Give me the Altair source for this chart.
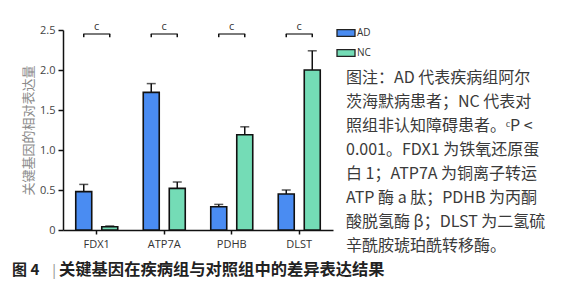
import altair as alt
import pandas as pd

genes = ["FDX1", "ATP7A", "PDHB", "DLST"]
groups = ["AD", "NC"]
ad_mean = [0.48, 1.72, 0.29, 0.45]
ad_err = [0.09, 0.11, 0.03, 0.05]
nc_mean = [0.04, 0.52, 1.19, 2.00]
nc_err = [0.01, 0.08, 0.10, 0.24]
sig_labels = ["c", "c", "c", "c"]
y_ticks = [0, 0.5, 1.0, 1.5, 2.0, 2.5]

note_lines = [
    "图注：AD 代表疾病组阿尔",
    "茨海默病患者；NC 代表对",
    "照组非认知障碍患者。ᶜP <",
    "0.001。FDX1 为铁氧还原蛋",
    "白 1；ATP7A 为铜离子转运",
    "ATP 酶 a 肽；PDHB 为丙酮",
    "酸脱氢酶 β；DLST 为二氢硫",
    "辛酰胺琥珀酰转移酶。",
]
caption_num = "图 4"
caption_text = "关键基因在疾病组与对照组中的差异表达结果"
y_title = "关键基因的相对表达量"

rows = []
for i, g in enumerate(genes):
    rows.append({"gene": g, "group": "AD", "mean": ad_mean[i], "hi": ad_mean[i] + ad_err[i]})
    rows.append({"gene": g, "group": "NC", "mean": nc_mean[i], "hi": nc_mean[i] + nc_err[i]})
df = pd.DataFrame(rows)

sig = pd.DataFrame({"gene": genes, "label": sig_labels, "yb": [2.45] * 4, "yl": [2.41] * 4, "yt": [2.54] * 4})
leg_rows = pd.DataFrame([{"gene": g, "group": grp, "yb": 2.45, "yl": 2.41} for g in genes for grp in groups])

FONT = "Noto Sans CJK SC"
LAT = "Open Sans"

xaxis = alt.Axis(title=None, labelAngle=0, labelFont=LAT, labelFontSize=11, labelColor="#333",
                 domainColor="#111", domainWidth=1.5, tickColor="#111", tickWidth=1.5,
                 tickSize=4, labelPadding=4)
xscale = alt.Scale(paddingInner=0, paddingOuter=0)
xs = alt.X("gene:N", sort=genes, scale=xscale, axis=xaxis)
xo = alt.XOffset("group:N", sort=groups, scale=alt.Scale(paddingInner=0.385, paddingOuter=0.49))
yscale = alt.Scale(domain=[0, 2.5], nice=False)
yaxis = alt.Axis(values=y_ticks, title=y_title, grid=False, labelOverlap=False,
                 labelExpr="datum.value == 0 ? '0' : format(datum.value, '.1f')",
                 labelFont=LAT, labelFontSize=11, labelColor="#444", labelPadding=3,
                 domainColor="#111", domainWidth=1.5, tickColor="#111", tickWidth=1.5, tickSize=5,
                 titleFont=FONT, titleFontSize=13, titleFontWeight="normal", titleColor="#8a8a8a",
                 titlePadding=4)


def Y(field):
    return alt.Y(field, scale=yscale, axis=yaxis, title=y_title)


color = alt.Color("group:N", sort=groups,
                  scale=alt.Scale(domain=groups, range=["#4a8cf2", "#74dcb6"]),
                  legend=alt.Legend(title=None, orient="none", legendX=273, legendY=-7,
                                    symbolType="M-1,-0.38L1,-0.38L1,0.38L-1,0.38Z", symbolSize=324,
                                    symbolStrokeColor="#222", symbolStrokeWidth=1.3,
                                    labelFont=LAT, labelFontSize=10, labelColor="#333",
                                    labelOffset=1, rowPadding=3))

base = alt.Chart(df)
bars = base.mark_bar(stroke="#111", strokeWidth=1.6).encode(x=xs, xOffset=xo, y=Y("mean:Q"), color=color)
err = base.mark_rule(color="#111", strokeWidth=1.5).encode(x=xs, xOffset=xo, y=Y("mean:Q"), y2="hi:Q")
caps = base.mark_tick(color="#111", thickness=1.5, size=9).encode(x=xs, xOffset=xo, y=Y("hi:Q"))

legs = alt.Chart(leg_rows).mark_rule(color="#111", strokeWidth=1.5).encode(
    x=xs, xOffset=xo, y=Y("yl:Q"), y2="yb:Q")
bracket = alt.Chart(sig).mark_tick(color="#111", thickness=1.6, size=27).encode(x=xs, y=Y("yb:Q"))
sig_text = alt.Chart(sig).mark_text(font=LAT, fontSize=11, color="#333", baseline="middle").encode(
    x=xs, y=Y("yt:Q"), text="label:N")

note = alt.Chart(pd.DataFrame({"t": ["\n".join(note_lines)]})).mark_text(
    font=FONT, fontSize=16, color="#3a3a3a", align="left", baseline="middle",
    lineBreak="\n", lineHeight=24).encode(x=alt.value(283), y=alt.value(48), text="t:N")

cap1 = alt.Chart(pd.DataFrame({"t": [caption_num]})).mark_text(
    font=FONT, fontSize=15, fontWeight="bold", color="#222", align="left", baseline="middle").encode(
    x=alt.value(-51), y=alt.value(240), text="t:N")
bar_sep = alt.Chart(pd.DataFrame({"t": ["|"]})).mark_text(
    font=LAT, fontSize=15, color="#999", align="left", baseline="middle").encode(
    x=alt.value(-13), y=alt.value(240), text="t:N")
cap2 = alt.Chart(pd.DataFrame({"t": [caption_text]})).mark_text(
    font=FONT, fontSize=16.3, fontWeight="bold", color="#222", align="left", baseline="middle").encode(
    x=alt.value(-4), y=alt.value(240), text="t:N")

chart = alt.layer(bars, err, caps, legs, bracket, sig_text, note, cap1, bar_sep, cap2).properties(
    width=270, height=200,
    autosize=alt.AutoSizeParams(type="none"),
    padding={"left": 63, "top": 30, "right": 245, "bottom": 70},
    background="white",
).configure_view(stroke=None)

chart.save("out.html", embed_options={"renderer": "svg", "actions": False})
